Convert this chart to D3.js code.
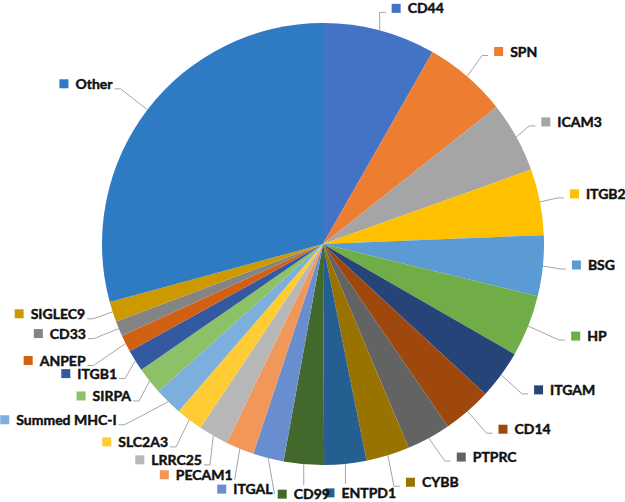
<!DOCTYPE html>
<html lang="en">
<head>
    <meta charset="UTF-8">
    <title>Pie chart</title>
    <script src="https://d3js.org/d3.v7.min.js"></script>
    <style>
        body, html {
            margin: 0;
            padding: 0;
            background-color: #fff;
        }
        svg {
            display: block;
        }
        .label text {
            font-family: 'Lato', 'Open Sans', sans-serif;
            font-weight: bold;
            font-size: 14px;
            fill: #111;
            stroke: #111;
            stroke-width: 0.45px;
        }
    </style>
</head>
<body>
    <svg width="625" height="502"></svg>

    <script>
        // share of each protein (%)
        const names = ['CD44', 'SPN', 'ICAM3', 'ITGB2', 'BSG', 'HP', 'ITGAM', 'CD14', 'PTPRC', 'CYBB',
            'ENTPD1', 'CD99', 'ITGAL', 'PECAM1', 'LRRC25', 'SLC2A3', 'Summed MHC-I', 'SIRPA', 'ITGB1',
            'ANPEP', 'CD33', 'SIGLEC9', 'Other'];
        const values = [8.25, 6.11, 5.17, 4.83, 4.44, 4.5, 3.56, 3.58, 3.22, 3.17,
            3.08, 2.94, 2.25, 2.06, 2.19, 1.97, 2.03, 2.0, 1.58,
            1.25, 1.11, 1.47, 29.22];
        const colors = ['#4472C4', '#ED7D31', '#A5A5A5', '#FFC000', '#5B9BD5', '#70AD47', '#264478', '#9E480E',
            '#636363', '#997300', '#255E91', '#43682B', '#698ED0', '#F1975A', '#B7B7B7', '#FFCD33', '#7CAFDD',
            '#8CC168', '#335AA1', '#D26012', '#848484', '#CC9A00', '#2F7BC3'];

        // label placement: offset of the marker from the slice edge, and which side the leader joins
        const labelShift = [[12, -22], [27, -25], [25, -15], [30, -8], [29, -1], [43, 10], [33, 15], [31, 18],
            [28, 19], [18, 27], [-20, 29], [-26, 30], [-51, 31], [-80, 26], [-78, 24], [-87, 22], [-168, 18],
            [-73, 15], [-74, 13], [-102, 17], [-85, 5], [-98, 2], [-88, -26]];
        const leaderSide = ['r', 'r', 'r', 'r', 'r', 'r', 'r', 'r', 'r', 'r', 'b', 'b', 'l', 'l', 'l', 'l', 'l',
            'l', 'l', 'l', 'l', 'l', 'l'];

        const cx = 323, cy = 244, radius = 221;
        const svg = d3.select('svg');
        const data = names.map((n, i) => ({ name: n, value: values[i], i: i }));

        const pie = d3.pie().sort(null).value(d => d.value);
        const arc = d3.arc().innerRadius(0).outerRadius(radius);
        const arcs = pie(data);

        const g = svg.append('g').attr('transform', `translate(${cx},${cy})`);

        g.selectAll('path.slice')
            .data(arcs)
            .join('path')
            .attr('class', 'slice')
            .attr('d', arc)
            .attr('fill', d => colors[d.data.i]);

        // labels with leader lines
        arcs.forEach(d => {
            const i = d.data.i;
            const mid = (d.startAngle + d.endAngle) / 2;
            const sx = radius * Math.sin(mid), sy = -radius * Math.cos(mid);
            const mx = sx + labelShift[i][0], my = sy + labelShift[i][1];

            const lab = g.append('g').attr('class', 'label');
            lab.append('rect')
                .attr('x', mx).attr('y', my - 4.5)
                .attr('width', 9).attr('height', 9)
                .attr('fill', colors[i]);
            const t = lab.append('text')
                .attr('x', mx + 16).attr('y', my)
                .attr('dy', '0.36em')
                .text(d.data.name);
            const textEnd = mx + 16 + t.node().getComputedTextLength();

            let pts;
            if (leaderSide[i] === 'r') {
                const ex = mx - 6, ey = my + 4;
                pts = sx < ex - 6 ? [[sx, sy], [ex - 6, ey], [ex, ey]] : [[sx, sy], [ex, ey]];
            } else if (leaderSide[i] === 'l') {
                const ex = textEnd + 2, ey = my + 5;
                pts = sx > ex + 6 ? [[sx, sy], [ex + 6, ey], [ex, ey]] : [[sx, sy], [ex, ey]];
            } else {
                pts = [[sx, sy], [sx, my - 9]];
            }
            g.insert('path', '.label')
                .attr('d', d3.line()(pts))
                .attr('fill', 'none')
                .attr('stroke', '#a6a6a6')
                .attr('stroke-width', 1);
        });
    </script>
</body>
</html>
